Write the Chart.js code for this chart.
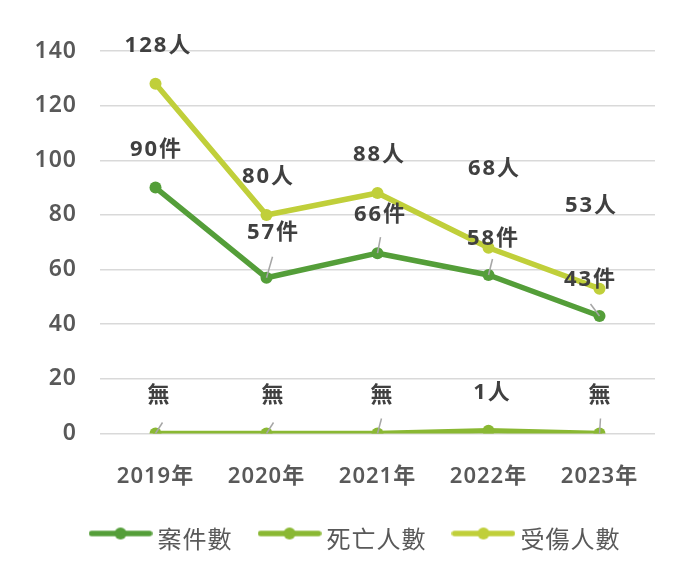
<!DOCTYPE html>
<html><head><meta charset="utf-8">
<script src="https://cdn.jsdelivr.net/npm/chart.js@4.4.1/dist/chart.umd.min.js"></script>
<style>html,body{margin:0;padding:0;background:#fff;}#wrap{width:690px;height:568px;}</style>
</head><body><div id="wrap"><canvas id="c" width="690" height="568"></canvas></div>
<script>
// ---- data ----
const categories = ['2019年', '2020年', '2021年', '2022年', '2023年'];
const seriesNames = ['案件數', '死亡人數', '受傷人數'];
const cases = [90, 57, 66, 58, 43];
const deaths = [0, 0, 0, 1, 0];
const injuries = [128, 80, 88, 68, 53];
const units = ['件', '人', '人'];
const zeroText = '無';
const yTickValues = [0, 20, 40, 60, 80, 100, 120, 140];

// ---- style ----
const colors = ['#549E39', '#8AB833', '#C0CF3A'];
const labelOffsets = [
  [[0, -40], [6, -47], [2, -40], [4, -38], [-10, -38]],
  [[3, -40], [6, -40], [4, -40], [3, -40], [0, -40]],
  [[2, -40], [1, -40], [1, -40], [5, -81], [-9, -85]]
];
const leaderEnds = [
  [null, [6, -21], [3, -16], [4, -16], [-9, -12]],
  [[7, -11], [7, -11], [4, -15], null, [1, -15]],
  [null, null, null, null, null]
];
const FONT = '"Noto Sans", "Noto Sans CJK TC", sans-serif';

function legendIcon(color) {
  const c = document.createElement('canvas');
  c.width = 64; c.height = 24;
  const g = c.getContext('2d');
  const cy = 7;
  g.strokeStyle = color; g.lineWidth = 5.5; g.lineCap = 'round';
  g.beginPath(); g.moveTo(3, cy); g.lineTo(61, cy); g.stroke();
  g.fillStyle = color; g.beginPath(); g.arc(32, cy, 6, 0, Math.PI * 2); g.fill();
  return c;
}
const icons = colors.map(legendIcon);

const spacingPlugin = {
  id: 'spacing',
  beforeUpdate(chart) { chart.ctx.letterSpacing = '1px'; },
  beforeDraw(chart) { chart.ctx.letterSpacing = '1px'; }
};

const labelPlugin = {
  id: 'valueLabels',
  afterDatasetsDraw(chart) {
    const ctx = chart.ctx;
    ctx.save();
    chart.data.datasets.forEach((ds, di) => {
      const meta = chart.getDatasetMeta(di);
      meta.data.forEach((pt, i) => {
        const le = leaderEnds[di][i];
        if (le) {
          ctx.strokeStyle = '#A6A6A6'; ctx.lineWidth = 1.5;
          ctx.beginPath(); ctx.moveTo(pt.x, pt.y); ctx.lineTo(pt.x + le[0], pt.y + le[1]); ctx.stroke();
        }
      });
    });
    chart.data.datasets.forEach((ds, di) => {
      const meta = chart.getDatasetMeta(di);
      meta.data.forEach((pt, i) => {
        const v = ds.data[i];
        const txt = v === 0 ? zeroText : v + units[di];
        const off = labelOffsets[di][i];
        ctx.font = 'bold 22px ' + FONT;
        ctx.letterSpacing = '2px';
        ctx.fillStyle = '#404040';
        ctx.textAlign = 'center';
        ctx.textBaseline = 'alphabetic';
        ctx.fillText(txt, pt.x + off[0] + 1, pt.y + off[1] + 8);
      });
    });
    ctx.restore();
  }
};

const seriesData = [cases, deaths, injuries];
new Chart(document.getElementById('c'), {
  type: 'line',
  data: {
    labels: categories,
    datasets: seriesNames.map((n, i) => ({
      label: n,
      data: seriesData[i],
      borderColor: colors[i],
      backgroundColor: colors[i],
      pointBackgroundColor: colors[i],
      pointBorderColor: colors[i],
      pointBorderWidth: 0,
      pointRadius: 6,
      pointHoverRadius: 6,
      borderWidth: 5.5,
      borderJoinStyle: 'round',
      borderCapStyle: 'round',
      tension: 0,
      yAxisID: 'y'
    }))
  },
  options: {
    responsive: false,
    animation: false,
    events: [],
    layout: { padding: { left: 26, right: 0, top: 51, bottom: 7.5 } },
    scales: {
      x: {
        offset: true,
        grid: { display: false, offset: true },
        border: { display: false },
        ticks: { color: '#595959', font: { family: FONT, size: 22, weight: '600' }, padding: 22, maxRotation: 0 },
        afterFit(s) { s.height = 61; }
      },
      y: {
        min: 0, max: 140,
        afterBuildTicks(s) { s.ticks = yTickValues.map(v => ({ value: v })); },
        grid: { color: '#D9D9D9', lineWidth: 1.5, drawTicks: false },
        border: { display: false },
        ticks: { color: '#595959', font: { family: FONT, size: 23, weight: '600' }, padding: 23 },
        afterFit(s) { s.width = 74; }
      },
      y2: {
        position: 'right',
        display: true,
        grid: { display: false },
        border: { display: false },
        ticks: { display: false },
        afterFit(s) { s.width = 35; }
      }
    },
    plugins: {
      tooltip: { enabled: false },
      legend: {
        position: 'bottom',
        labels: {
          usePointStyle: true,
          pointStyleWidth: 50,
          boxHeight: 24,
          padding: 32,
          color: '#595959',
          font: { family: '"Noto Sans CJK TC", sans-serif', size: 24 },
          generateLabels(chart) {
            const items = Chart.defaults.plugins.legend.labels.generateLabels(chart);
            items.forEach((it, i) => { it.pointStyle = icons[i]; });
            return items;
          }
        }
      }
    }
  },
  plugins: [spacingPlugin, labelPlugin]
});
</script></body></html>
